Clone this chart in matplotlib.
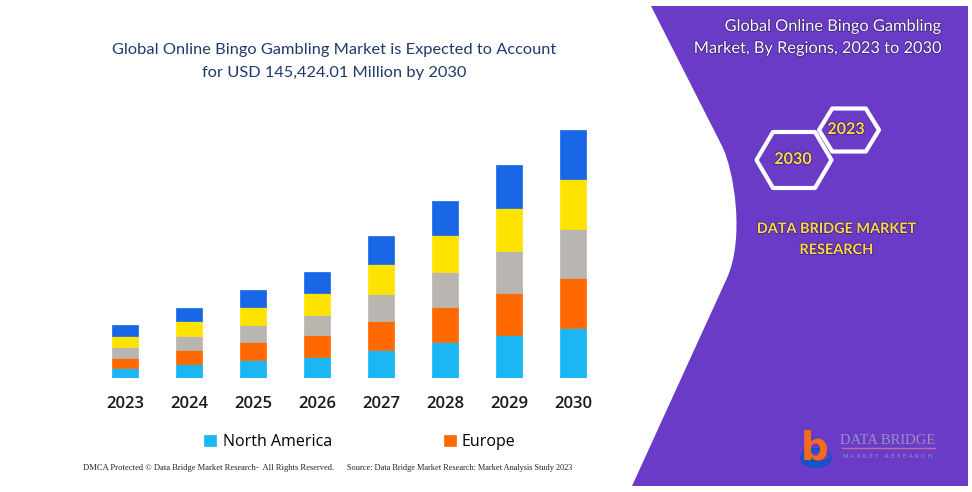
import matplotlib
matplotlib.use("Agg")
import matplotlib.pyplot as plt
import matplotlib.patheffects as pe
from matplotlib.path import Path
from matplotlib.patches import PathPatch, Polygon, Ellipse
import numpy as np

# values in USD billion
years = ["2023", "2024", "2025", "2026", "2027", "2028", "2029", "2030"]
north_america = [5.9, 8.0, 10.4, 12.3, 16.6, 20.9, 25.0, 29.1]
europe = [6.1, 8.4, 10.5, 12.7, 17.0, 20.7, 25.0, 29.5]
asia_pacific = [6.1, 8.2, 10.1, 11.7, 15.8, 20.3, 24.6, 28.7]
south_america = [6.4, 8.8, 10.4, 13.3, 17.4, 21.7, 25.2, 29.3]
middle_east_africa = [6.3, 7.4, 10.1, 11.9, 16.2, 20.3, 25.2, 28.9]

series = [
    ("North America", north_america, "#1bb7f4"),
    ("Europe", europe, "#ff6a00"),
    ("Asia-Pacific", asia_pacific, "#b9b6b1"),
    ("South America", south_america, "#ffe300"),
    ("Middle East and Africa", middle_east_africa, "#1767e6"),
]

fig = plt.figure(figsize=(9.72, 4.92), dpi=100)

# background layer in pixel coordinates
bg = fig.add_axes([0, 0, 1, 1])
bg.set_xlim(0, 972)
bg.set_ylim(492, 0)
bg.axis("off")

purple = "#6a3bc6"
verts = [(651, 6), (722, 146), (734, 170), (745, 238), (727, 278),
         (632, 486), (968, 486), (968, 6), (651, 6)]
codes = [Path.MOVETO, Path.LINETO, Path.CURVE4, Path.CURVE4, Path.CURVE4,
         Path.LINETO, Path.LINETO, Path.LINETO, Path.CLOSEPOLY]
bg.add_patch(PathPatch(Path(verts, codes), facecolor=purple, edgecolor="none"))

# left title
bg.text(334, 50, "Global Online Bingo Gambling Market is Expected to Account",
        ha="center", va="center", fontsize=11.8, color="#1f3a6b", family="Lato")
bg.text(334, 73, "for USD 145,424.01 Million by 2030",
        ha="center", va="center", fontsize=11.8, color="#1f3a6b", family="Lato")

# right panel text
shadow = [pe.withStroke(linewidth=1.0, foreground="#3a2078")]
bg.text(942, 27, "Global Online Bingo Gambling", ha="right", va="center",
        fontsize=11.8, color="white", family="Lato", path_effects=shadow)
bg.text(942, 49, "Market, By Regions, 2023 to 2030", ha="right", va="center",
        fontsize=11.8, color="white", family="Lato", path_effects=shadow)

def hexagon(cx, cy, w, h, label, dx):
    t = w * 0.28
    pts = [(cx - w / 2, cy), (cx - t, cy - h / 2), (cx + t, cy - h / 2),
           (cx + w / 2, cy), (cx + t, cy + h / 2), (cx - t, cy + h / 2)]
    bg.add_patch(Polygon(pts, closed=True, facecolor="none", edgecolor="white",
                         linewidth=3.0, joinstyle="round"))
    bg.text(cx + dx, cy, label, ha="center", va="center", fontsize=11.6,
            color="#ffd84a", family="Lato", fontweight="bold", path_effects=shadow)

hexagon(849, 130, 60, 43, "2023", -3)
hexagon(794, 160, 75, 56, "2030", -1)

bg.text(836, 229, "DATA BRIDGE MARKET", ha="center", va="center", fontsize=10.4,
        color="#ffd84a", family="Lato", fontweight="bold", path_effects=shadow)
bg.text(836, 250, "RESEARCH", ha="center", va="center", fontsize=10.4,
        color="#ffd84a", family="Lato", fontweight="bold", path_effects=shadow)

# logo
bg.add_patch(Ellipse((816, 458), 32, 20, facecolor="#1a50c8", edgecolor="none"))
bg.add_patch(Ellipse((820, 456), 18, 9, facecolor=purple, edgecolor="none"))
bg.text(815, 448, "b", ha="center", va="center", fontsize=28, fontweight="bold",
        color="#f26a1b", family="DejaVu Sans")
bg.plot([842, 935], [448, 448], color="#c86aa0", linewidth=1)
bg.text(888, 441, "DATA BRIDGE", ha="center", va="center", fontsize=10.5,
        color="#9a8fc0", family="Liberation Serif")
bg.text(888, 456, "M A R K E T   R E S E A R C H", ha="center", va="center",
        fontsize=4.5, color="#9a8fc0", family="DejaVu Sans")

# footer
bg.text(83, 468, "DMCA Protected \u00a9 Data Bridge Market Research-  All Rights Reserved.",
        ha="left", va="center", fontsize=6.1, color="#222222", family="Liberation Serif")
bg.text(347, 468, "Source: Data Bridge Market Research: Market Analysis Study 2023",
        ha="left", va="center", fontsize=5.95, color="#222222", family="Liberation Serif")

# chart
ax = fig.add_axes([93 / 972, (492 - 378) / 492, 512 / 972, 256 / 492])
ax.set_facecolor("none")
x = np.arange(len(years))
bottom = np.zeros(len(years))
handles = []
for name, vals, col in series:
    b = ax.bar(x, vals, width=0.4, bottom=bottom, color=col, label=name,
               edgecolor=col, linewidth=0.5)
    handles.append(b)
    bottom += np.array(vals)

ax.set_xlim(-0.5, 7.5)
ax.set_ylim(0, 150)
ax.set_xticks(x)
ax.set_xticklabels(years, fontsize=12, family="Open Sans", fontweight="semibold",
                   color="#1a1a1a")
ax.tick_params(axis="x", length=0, pad=13)
ax.set_yticks([])
for s in ax.spines.values():
    s.set_visible(False)

fig.legend(handles[:2], ["North America", "Europe"], loc="center",
           bbox_to_anchor=(360 / 972, (492 - 442) / 492), ncol=2,
           frameon=False, handlelength=0.75, handleheight=0.75,
           handletextpad=0.4, columnspacing=7.0,
           prop={"family": "Open Sans", "size": 11.5})

fig.savefig("out.png", dpi=100)
